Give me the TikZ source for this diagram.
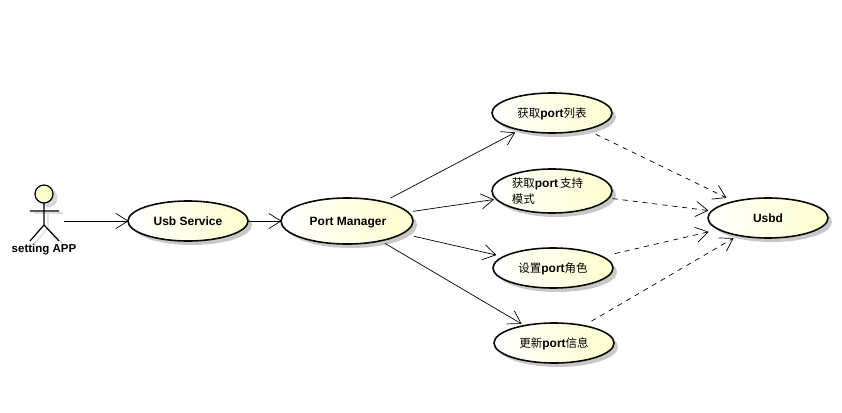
\documentclass[tikz,border=0pt]{standalone}
\usepackage{fontspec}
\setmainfont{Liberation Sans}
\newfontfamily\cjk{Noto Sans CJK SC}
\usetikzlibrary{shapes.geometric,arrows.meta,shadows}
\definecolor{ucyellow}{RGB}{254,254,206}
\definecolor{ucline}{RGB}{10,10,10}
\newcommand{\zh}[1]{{\cjk\mdseries\fontsize{11.5}{15}\selectfont #1}}
\pgfdeclarearrow{
  name=OpenV,
  setup code={\pgfarrowssetlineend{0pt}\pgfarrowssettipend{0pt}\pgfarrowssetbackend{-12pt}\pgfarrowssetvisualbackend{-1pt}\pgfarrowshullpoint{0pt}{0pt}\pgfarrowshullpoint{-12pt}{7.5pt}\pgfarrowshullpoint{-12pt}{-7.5pt}},
  drawing code={\pgfsetdash{}{0pt}\pgfsetroundjoin\pgfsetroundcap\pgfpathmoveto{\pgfpoint{-12pt}{7.5pt}}\pgfpathlineto{\pgfpointorigin}\pgfpathlineto{\pgfpoint{-12pt}{-7.5pt}}\pgfusepathqstroke},
}
\tikzset{
  x=1pt,y=-1pt,
  usecase/.style={ellipse,draw=ucline,line width=1.6pt,inner sep=0pt,outer sep=0pt,
    left color=white,right color=ucyellow,align=center,text depth=0pt,
    font=\fontsize{12}{15}\selectfont\bfseries,
    drop shadow={shadow xshift=4pt,shadow yshift=-4pt,fill=black!30,opacity=.7}},
  assoc/.style={draw=black,line width=.7pt,-{OpenV}},
  dep/.style={assoc,dash pattern=on 5pt off 5pt},
  limb/.style={draw=black,line width=1.2pt},
  limbshadow/.style={draw=black!12,line width=1.6pt},
}
\begin{document}
\begin{tikzpicture}
\useasboundingbox[fill=white] (0,0) rectangle (842,412);
% use cases
\node[usecase,minimum width=120pt,minimum height=40pt] (usb) at (188,221) {Usb Service};
\node[usecase,minimum width=132pt,minimum height=46pt] (pm) at (347,221) {\hspace*{2pt}Port Manager};
\node[usecase,minimum width=120pt,minimum height=40pt] (list) at (552,113) {\zh{获取}port\zh{列表}};
\node[usecase,minimum width=120pt,minimum height=44pt,align=left] (mode) at (552,191) {\zh{获取}port\hspace{2pt}\zh{支持}\hspace*{9pt}\\[1pt]\zh{模式}};
\node[usecase,minimum width=120pt,minimum height=40pt] (role) at (553,268) {\zh{设置}port\zh{角色}};
\node[usecase,minimum width=120pt,minimum height=40pt] (info) at (554,343) {\zh{更新}port\zh{信息}};
\node[usecase,minimum width=120pt,minimum height=40pt] (usbd) at (768,218) {Usbd};
% actor
\coordinate (actor) at (44,221);
\draw[limbshadow] (34,213) -- (63,213) (48,213) -- (48,228) -- (34,244) (48,228) -- (63,244);
\fill[black!15] (48,198) circle (9.5);
\draw[limb,fill=ucyellow] (44,194) circle (9);
\draw[limb] (30,211) -- (59,211) (44,203) -- (44,225) -- (30,241) (44,225) -- (59,241);
\node[font=\fontsize{11.5}{14}\selectfont\bfseries] (actorlabel) at (44,250) {setting APP};
% connectors
\draw[assoc,shorten <=20pt] (actor) -- (usb);
\draw[assoc] (usb) -- (pm);
\draw[assoc,shorten <=8pt,shorten >=6pt] (pm) -- (list);
\draw[assoc,shorten <=5pt,shorten >=3pt] (pm) -- (mode);
\draw[assoc,shorten <=12pt,shorten >=8pt] (pm) -- (role);
\draw[assoc,shorten <=5pt,shorten >=4pt] (pm) -- (info);
\draw[dep,shorten <=11pt,shorten >=9pt] (list) -- (usbd);
\draw[dep,shorten <=4pt,shorten >=4pt] (mode) -- (usbd);
\draw[dep,shorten <=13pt,shorten >=11pt] (role) -- (usbd);
\draw[dep,shorten <=9pt,shorten >=6pt] (info) -- (usbd);
\end{tikzpicture}
\end{document}
